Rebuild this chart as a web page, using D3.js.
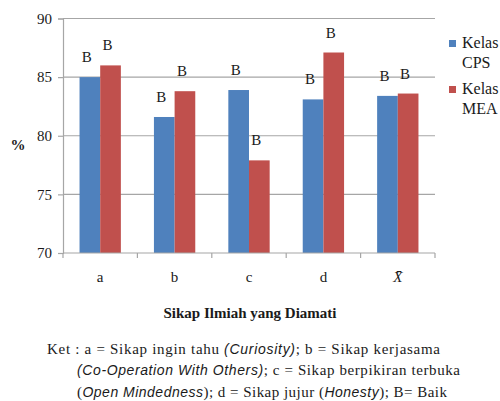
<!DOCTYPE html>
<html lang="id">
<head>
    <meta charset="UTF-8">
    <style>
        body { margin: 0; background: #fff; }
    </style>
    <script src="https://d3js.org/d3.v7.min.js"></script>
</head>
<body>
    <div id="chart"></div>

    <script>
        // data
        var categories = ["a", "b", "c", "d", "X\u0304"];
        var seriesNames = ["Kelas CPS", "Kelas MEA"];
        var cpsValues = [85.0, 81.6, 83.9, 83.1, 83.4];
        var meaValues = [86.0, 83.8, 77.9, 87.1, 83.6];
        var grades = ["B", "B", "B", "B", "B"];
        var yTicks = [70, 75, 80, 85, 90];
        var colors = ["#4f81bd", "#c0504d"];

        var serif = "'Liberation Serif', 'Times New Roman', serif";
        var width = 500, height = 401;
        var margin = { top: 18.5, right: 65, bottom: 148, left: 63 };

        var svg = d3.select("#chart").append("svg")
            .attr("width", width)
            .attr("height", height)
            .attr("font-family", serif);

        var x = d3.scaleBand()
            .domain(categories)
            .range([margin.left, width - margin.right])
            .padding(0);

        var xInner = d3.scaleBand()
            .domain(seriesNames)
            .range([0, x.bandwidth()])
            .paddingInner(0)
            .paddingOuter(0.8);

        var y = d3.scaleLinear()
            .domain([70, 90])
            .range([height - margin.bottom, margin.top]);

        function txt(sel, size) {
            return sel.style("font-family", serif)
                .style("font-size", size + "px")
                .attr("fill", "#1a1a1a");
        }

        // gridlines
        svg.append("g")
            .selectAll("line")
            .data(yTicks.slice(1))
            .enter().append("line")
            .attr("x1", margin.left)
            .attr("x2", width - margin.right)
            .attr("y1", d => y(d))
            .attr("y2", d => y(d))
            .attr("stroke", "#a6a6a6")
            .attr("stroke-width", 1.2);

        // bars
        var rows = categories.map((c, i) => ({ cat: c, vals: [cpsValues[i], meaValues[i]], grade: grades[i] }));

        var groups = svg.append("g").selectAll("g")
            .data(rows)
            .enter().append("g")
            .attr("transform", d => "translate(" + x(d.cat) + ",0)");

        groups.selectAll("rect")
            .data(d => d.vals.map((v, j) => ({ name: seriesNames[j], value: v, color: colors[j] })))
            .enter().append("rect")
            .attr("x", d => xInner(d.name))
            .attr("width", xInner.bandwidth())
            .attr("y", d => y(d.value))
            .attr("height", d => y(70) - y(d.value))
            .attr("fill", d => d.color);

        // grade labels above bars
        groups.selectAll("text")
            .data(d => d.vals.map((v, j) => ({ name: seriesNames[j], value: v, grade: d.grade })))
            .enter().append("text")
            .attr("x", d => xInner(d.name) + xInner.bandwidth() / 2 - 3)
            .attr("y", d => y(d.value) - 15)
            .attr("text-anchor", "middle")
            .call(txt, 15)
            .text(d => d.grade);

        // y axis
        var yAxis = svg.append("g")
            .attr("transform", "translate(" + margin.left + ",0)")
            .call(d3.axisLeft(y).tickValues(yTicks).tickSize(5).tickPadding(6));
        yAxis.attr("font-family", null);
        yAxis.select(".domain").attr("stroke", "#a6a6a6").attr("stroke-width", 1.2);
        yAxis.selectAll(".tick line").attr("stroke", "#a6a6a6").attr("stroke-width", 1.2);
        yAxis.selectAll(".tick text").call(txt, 15);

        // x axis with ticks at band edges
        var xAxisG = svg.append("g")
            .attr("transform", "translate(0," + y(70) + ")");
        xAxisG.append("line")
            .attr("x1", margin.left)
            .attr("x2", width - margin.right)
            .attr("stroke", "#a6a6a6")
            .attr("stroke-width", 1.2);
        var edges = categories.map(c => x(c)).concat([x.range()[1]]);
        xAxisG.selectAll(".edge")
            .data(edges)
            .enter().append("line")
            .attr("class", "edge")
            .attr("x1", d => d).attr("x2", d => d)
            .attr("y1", 0).attr("y2", 5)
            .attr("stroke", "#a6a6a6")
            .attr("stroke-width", 1.2);
        xAxisG.selectAll(".cat")
            .data(categories)
            .enter().append("text")
            .attr("class", "cat")
            .attr("x", d => x(d) + x.bandwidth() / 2)
            .attr("y", 29)
            .attr("text-anchor", "middle")
            .call(txt, 15)
            .style("font-style", (d, i) => i === categories.length - 1 ? "italic" : "normal")
            .text(d => d);

        // y title
        svg.append("text")
            .attr("x", 18)
            .attr("y", 150)
            .attr("text-anchor", "middle")
            .call(txt, 15)
            .style("font-weight", "bold")
            .text("%");

        // x title
        svg.append("text")
            .attr("x", 250)
            .attr("y", 318)
            .attr("text-anchor", "middle")
            .call(txt, 15)
            .style("font-weight", "bold")
            .text("Sikap Ilmiah yang Diamati");

        // legend
        var legend = svg.append("g").selectAll("g")
            .data(seriesNames)
            .enter().append("g")
            .attr("transform", (d, i) => "translate(449," + (40 + i * 46) + ")");
        legend.append("rect")
            .attr("width", 7).attr("height", 7)
            .attr("fill", (d, i) => colors[i]);
        legend.append("text")
            .attr("x", 13)
            .attr("y", 8)
            .call(txt, 16)
            .text(d => d.split(" ")[0]);
        legend.append("text")
            .attr("x", 13)
            .attr("y", 28)
            .call(txt, 16)
            .text(d => d.split(" ")[1]);

        // caption
        var sansIt = "'Liberation Sans', Arial, sans-serif";
        var caption = [
            { x: 47, y: 354, len: 393, parts: [
                ["Ket : a = Sikap ingin tahu ", false],
                ["(Curiosity)", true],
                ["; b = Sikap kerjasama", false]] },
            { x: 77, y: 375, len: 383, parts: [
                ["(Co-Operation With Others)", true],
                [";  c = Sikap berpikiran terbuka", false]] },
            { x: 77, y: 397, len: 370, parts: [
                ["(", false],
                ["Open Mindedness", true],
                ["); d = Sikap jujur (", false],
                ["Honesty", true],
                ["); B= Baik", false]] }
        ];
        caption.forEach(line => {
            var t = svg.append("text")
                .attr("x", line.x)
                .attr("y", line.y)
                .attr("textLength", line.len)
                .attr("lengthAdjust", "spacing")
                .call(txt, 15);
            line.parts.forEach(p => {
                t.append("tspan")
                    .style("font-style", p[1] ? "italic" : "normal")
                    .style("font-family", p[1] ? sansIt : serif)
                    .style("font-size", p[1] ? "14px" : "15px")
                    .text(p[0]);
            });
        });
    </script>
</body>
</html>
